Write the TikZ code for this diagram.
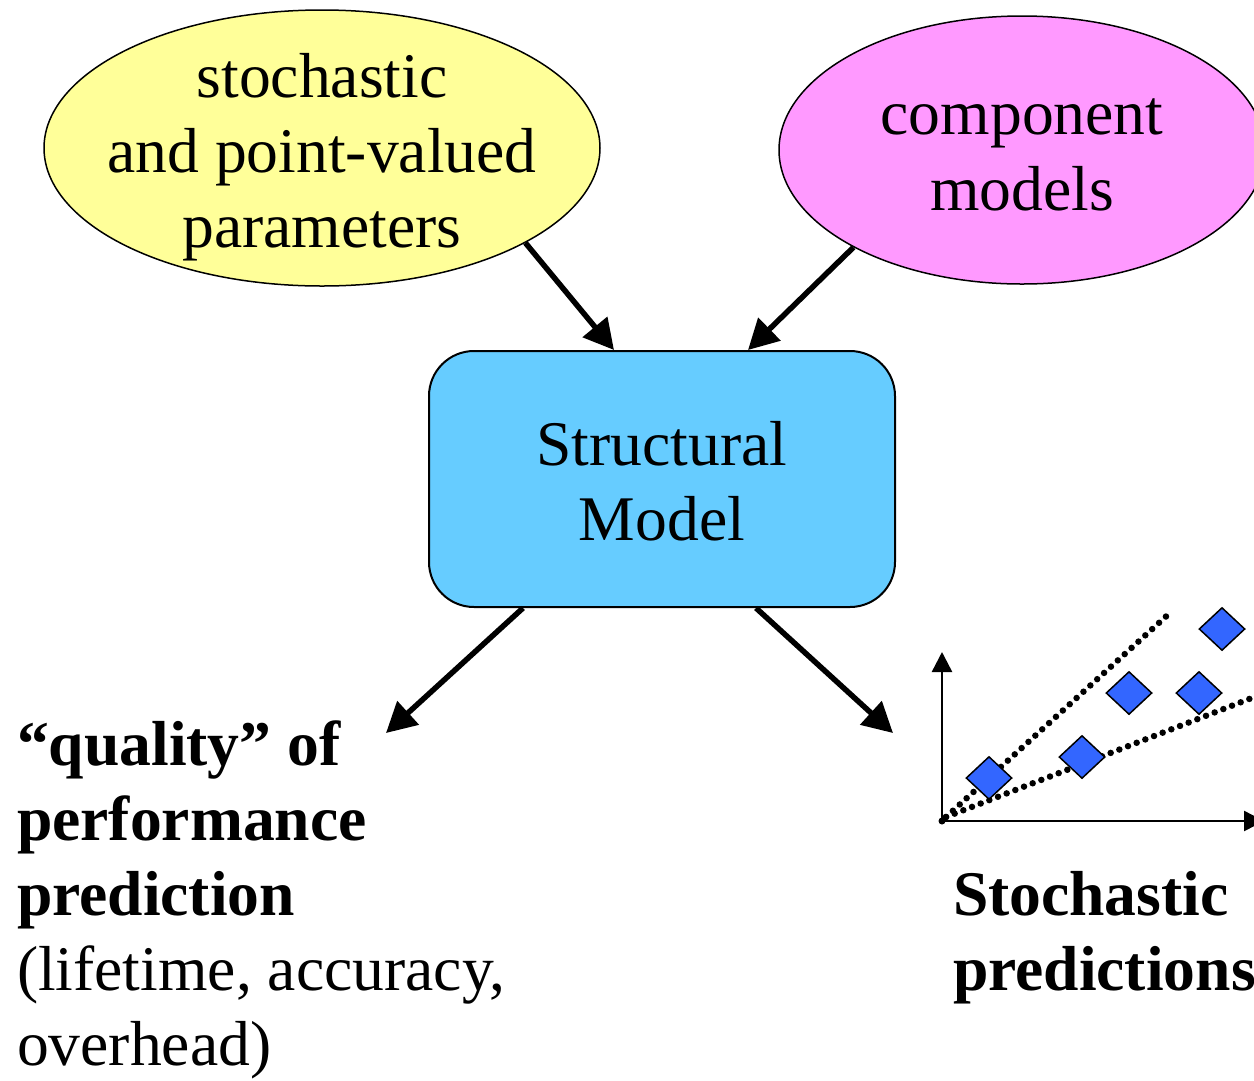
\documentclass[tikz,border=0pt]{standalone}
\usepackage{fontspec}
\setmainfont{Liberation Serif}
\usetikzlibrary{shapes.geometric,arrows.meta,calc}
\definecolor{ellyellow}{HTML}{FFFF99}
\definecolor{ellpink}{HTML}{FF99FF}
\definecolor{boxblue}{HTML}{66CCFF}
\definecolor{diablue}{HTML}{3366FF}
\tikzset{
  big/.style={font=\fontsize{63.6}{75}\selectfont, inner sep=0pt, outer sep=0pt},
  bigbold/.style={font=\fontsize{63.6}{75}\selectfont\bfseries, inner sep=0pt, outer sep=0pt},
  oval/.style={ellipse, draw=black, line width=1.5pt, inner sep=0pt},
  flow/.style={line width=5.5pt, -{Triangle[length=30pt,width=31pt]}},
  axis/.style={line width=2.5pt, -{Triangle[length=20pt,width=20pt]}},
  dots/.style={line width=6.5pt, line cap=round, dash pattern=on 0pt off 9.3pt},
  datum/.style={diamond, draw=black, line width=1.5pt, fill=diablue, minimum width=46pt, minimum height=43pt, inner sep=0pt}
}
\begin{document}
\begin{tikzpicture}[x=1pt,y=-1pt]
\clip (0,0) rectangle (1254,1080);
\fill[white] (0,0) rectangle (1254,1080);

% ellipses
\node[oval, fill=ellyellow, minimum width=556pt, minimum height=276pt] (params) at (322,148) {};
\node[big, anchor=base] (p1) at (322,97) {stochastic};
\node[big, anchor=base] (p2) at (322,172) {and point-valued};
\node[big, anchor=base] (p3) at (322,247) {parameters};

\node[oval, fill=ellpink, minimum width=486pt, minimum height=268pt] (comp) at (1022,150) {};
\node[big, anchor=base] (c1) at (1022,134) {component};
\node[big, anchor=base] (c2) at (1022,210) {models};

% structural model
\node[draw=black, line width=2pt, fill=boxblue, rounded corners=45pt, minimum width=466pt, minimum height=256pt, inner sep=0pt] (struct) at (662,479) {};
\node[big, anchor=base] (s1) at (662,465) {Structural};
\node[big, anchor=base] (s2) at (662,540) {Model};

% arrows in
\draw[flow] (params.-25.5) -- ($(struct.north)+(-48,0)$);
\draw[flow] (comp.210.1) -- ($(struct.north)+(86,0)$);

% arrows out
\coordinate (qtip) at (386,733);
\coordinate (stip) at (893,733);
\draw[flow] ($(struct.south)+(-139,0)$) -- (qtip);
\draw[flow] ($(struct.south)+(94,0)$) -- (stip);

% left text
\node[bigbold, anchor=base west] (q1) at (17,765) {“quality” of};
\node[bigbold, anchor=base west] (q2) at (17,840) {performance};
\node[bigbold, anchor=base west] (q3) at (17,915) {prediction};
\node[big, anchor=base west] (q4) at (17,990) {(lifetime, accuracy,};
\node[big, anchor=base west] (q5) at (17,1065) {overhead)};

% right text
\node[bigbold, anchor=base west] (r1) at (953,915) {Stochastic};
\node[bigbold, anchor=base west] (r2) at (953,990) {predictions};

% graph
\coordinate (origin) at (942,821);
\coordinate (ytop) at (942,652);
\coordinate (xend) at (1264,821);
\draw[axis] (origin) -- (ytop);
\draw[axis] (origin) -- (xend);
\fill (origin) circle (3.5pt);
\coordinate (d0) at (946,817);
\coordinate (uend) at (1172,611);
\coordinate (lend) at (1262,694);
\draw[dots] (d0) -- (uend);
\draw[dots] (d0) -- (lend);
\node[datum] (m1) at (989,778) {};
\node[datum] (m2) at (1082,757) {};
\node[datum] (m3) at (1129,693) {};
\node[datum] (m4) at (1199,693) {};
\node[datum] (m5) at (1222,629) {};
\end{tikzpicture}
\end{document}
